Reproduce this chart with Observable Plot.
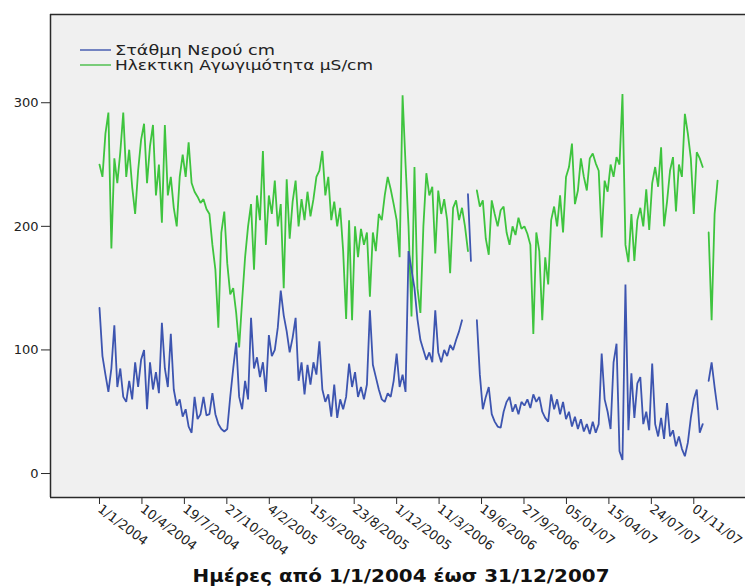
<!DOCTYPE html>
<html>
<head>
<meta charset="utf-8">
<script src="https://cdn.jsdelivr.net/npm/d3@7"></script>
<script src="https://cdn.jsdelivr.net/npm/@observablehq/plot@0.6"></script>
<style>
  html, body { margin: 0; padding: 0; background: #fff; }
</style>
</head>
<body>
<div id="chart"></div>
<script>
// X axis: day offsets from 1/1/2004 and their printed labels
const tickDays = [0, 100, 200, 300, 400, 500, 600, 700, 800, 900, 1000, 1100, 1200, 1300, 1400];
const tickLabels = ["1/1/2004", "10/4/2004", "19/7/2004", "27/10/2004", "4/2/2005", "15/5/2005",
  "23/8/2005", "1/12/2005", "11/3/2006", "19/6/2006", "27/9/2006", "05/01/07", "15/04/07",
  "24/07/07", "01/11/07"];
const yTicks = [0, 100, 200, 300];

// series names
const seriesNames = ["Στάθμη Νερού cm", "Ηλεκτικη Αγωγιμότητα μS/cm"];
const xTitle = "Ημέρες από 1/1/2004 έωσ 31/12/2007";

// samples, one every 7 days from 1/1/2004
const sampleStepDays = 7;
const waterLevel = [
  134, 95, 80, 66, 85, 120, 70, 85, 62, 58,
  75, 60, 90, 70, 92, 100, 52, 90, 68, 82,
  65, 122, 85, 70, 113, 68, 55, 60, 46, 52,
  38, 33, 62, 44, 48, 62, 47, 48, 65, 48,
  40, 36, 34, 36, 62, 85, 106, 62, 52, 75,
  60, 126, 85, 94, 78, 90, 66, 112, 95, 100,
  118, 148, 128, 115, 98, 110, 126, 75, 90, 64,
  88, 72, 90, 80, 107, 68, 58, 64, 46, 72,
  45, 60, 52, 62, 89, 70, 82, 62, 70, 60,
  72, 132, 88, 78, 68, 60, 58, 65, 62, 75,
  97, 70, 80, 66, 180, 165, 150, 125, 108, 100,
  92, 98, 90, 132, 98, 90, 100, 95, 104, 100,
  108, 115, 124, null, 226, 172, null, 124, 80, 52,
  62, 70, 48, 42, 38, 37, 50, 58, 62, 50,
  56, 48, 58, 55, 60, 53, 64, 58, 62, 50,
  45, 42, 64, 52, 60, 48, 58, 44, 50, 38,
  46, 36, 44, 34, 40, 32, 42, 33, 40, 97,
  60, 50, 36, 90, 105, 18, 11, 153, 35, 81,
  45, 73, 78, 40, 50, 35, 89, 40, 30, 45,
  28, 57, 30, 35, 22, 30, 20, 14, 25, 45,
  60, 68, 33, 40, null, 75, 90, 70, 52
];
const conductivity = [
  250, 240, 275, 292, 182, 255, 235, 260, 292, 240,
  262, 232, 210, 245, 270, 283, 235, 265, 282, 225,
  250, 203, 282, 225, 240, 215, 200, 240, 258, 240,
  268, 235, 228, 224, 219, 222, 214, 210, 185, 165,
  118, 195, 212, 170, 145, 150, 130, 102, 140, 175,
  200, 218, 165, 225, 205, 261, 185, 225, 210, 237,
  200, 218, 150, 238, 190, 220, 237, 200, 222, 205,
  228, 208, 222, 240, 245, 261, 225, 240, 205, 220,
  200, 215, 180, 125, 205, 124, 200, 175, 198, 185,
  195, 143, 195, 180, 210, 205, 225, 240, 230, 218,
  205, 175, 306, 250, 200, 127, 248, 150, 130, 200,
  243, 225, 232, 178, 229, 210, 222, 205, 162, 215,
  221, 205, 215, 200, 180, null, null, 229, 216, 221,
  190, 177, 221, 210, 200, 213, 216, 195, 185, 200,
  193, 207, 198, 200, 194, 185, 113, 195, 180, 124,
  175, 153, 205, 216, 200, 225, 195, 240, 248, 267,
  218, 229, 255, 240, 229, 255, 259, 251, 245, 191,
  237, 228, 250, 240, 256, 250, 307, 185, 171, 210,
  172, 205, 215, 200, 230, 197, 235, 248, 232, 264,
  200, 220, 245, 256, 212, 250, 240, 291, 275, 255,
  210, 260, 255, 248, null, 195, 124, 210, 237
];

const rows = waterLevel.map((v, i) => ({
  day: i * sampleStepDays,
  level: v,
  cond: conductivity[i]
}));

const blue = "#3d55b0";
const green = "#3ec43e";
const frameColor = "#2a2a2a";
const xDomain = [-115.4, 1521.8];
const yDomain = [-19.4, 371.4];

const chart = Plot.plot({
  width: 745,
  height: 588,
  marginLeft: 50,
  marginRight: 0,
  marginTop: 14,
  marginBottom: 91,
  style: { background: "white", fontFamily: "DejaVu Sans, sans-serif", fontSize: "13px", color: "#222" },
  x: { type: "linear", domain: xDomain },
  y: { domain: yDomain },
  marks: [
    Plot.frame({ fill: "#f0f0f0", stroke: null }),
    Plot.line(rows, { x: "day", y: "cond", stroke: green, strokeWidth: 1.8, strokeLinejoin: "miter" }),
    Plot.line(rows, { x: "day", y: "level", stroke: blue, strokeWidth: 1.8, strokeLinejoin: "miter" }),
    Plot.ruleX([xDomain[0]], { stroke: frameColor, strokeWidth: 1.5 }),
    Plot.ruleY([yDomain[0], yDomain[1]], { stroke: frameColor, strokeWidth: 1.5 }),
    Plot.axisY({ ticks: yTicks, tickSize: 9, tickPadding: 3, fontSize: 13, stroke: frameColor, label: null }),
    Plot.axisX({
      ticks: tickDays,
      tickFormat: d => tickLabels[tickDays.indexOf(d)],
      tickRotate: 37,
      tickSize: 7,
      tickPadding: 3,
      fontSize: 13,
      stroke: frameColor,
      label: null
    })
  ]
});

document.getElementById("chart").appendChild(chart);

// legend inside the plot area and the x-axis title
const svg = d3.select(chart);
const legend = svg.append("g")
  .attr("font-family", "DejaVu Sans, sans-serif")
  .attr("font-size", 14)
  .attr("fill", "#222")
  .attr("text-anchor", "start");
const legendItems = [
  { name: seriesNames[0], color: "#5468b5", y: 50, len: 160 },
  { name: seriesNames[1], color: "#5cc45c", y: 65, len: 258 }
];
legendItems.forEach(d => {
  legend.append("line").attr("x1", 80).attr("x2", 111).attr("y1", d.y).attr("y2", d.y)
    .attr("stroke", d.color).attr("stroke-width", 1.6);
  legend.append("text").attr("x", 115).attr("y", d.y + 5).attr("text-anchor", "start").text(d.name)
    .attr("textLength", d.len).attr("lengthAdjust", "spacingAndGlyphs");
});
svg.append("text")
  .attr("x", 401).attr("y", 582)
  .attr("text-anchor", "middle")
  .attr("font-family", "DejaVu Sans, sans-serif")
  .attr("font-weight", "bold")
  .attr("font-size", 17)
  .attr("fill", "#111")
  .attr("textLength", 417).attr("lengthAdjust", "spacingAndGlyphs")
  .text(xTitle);
</script>
</body>
</html>
